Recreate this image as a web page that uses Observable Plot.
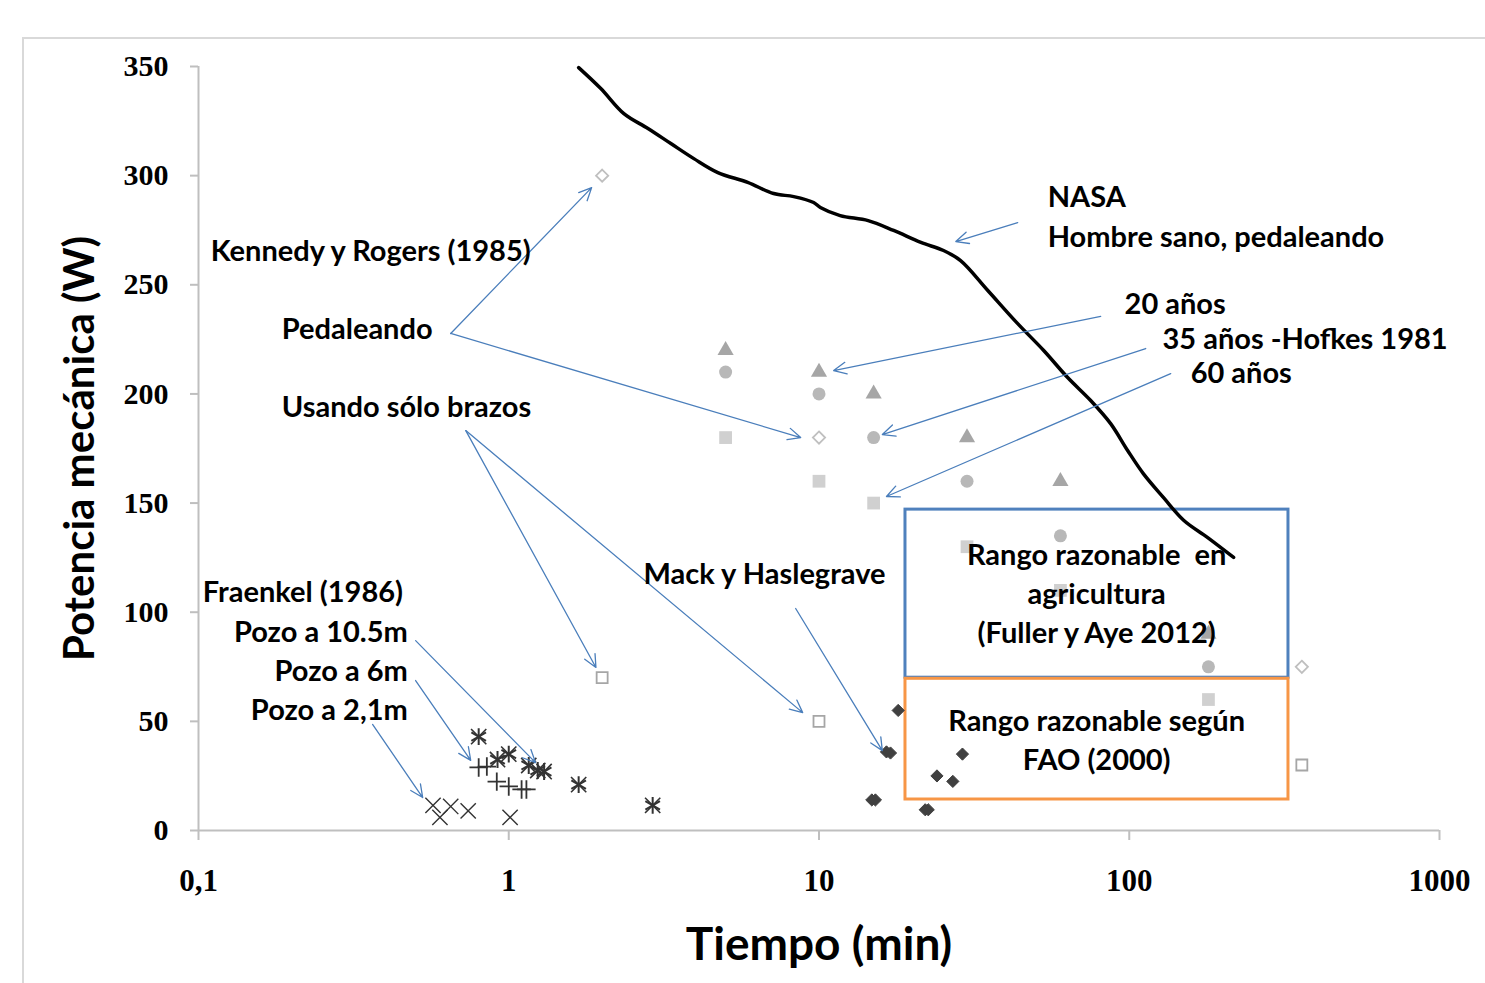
<!DOCTYPE html>
<html>
<head>
<meta charset="utf-8">
<script src="https://cdn.jsdelivr.net/npm/d3@7"></script>
<script src="https://cdn.jsdelivr.net/npm/@observablehq/plot@0.6"></script>
<style>
  html, body { margin: 0; padding: 0; background: #fff; overflow: hidden; }
  #frame { position: absolute; left: 22px; top: 37px; width: 1500px; height: 1000px; border: 2px solid #d9d9d9; box-sizing: border-box; }
  #chart { position: absolute; left: 0; top: 0; }
</style>
</head>
<body>
<div id="frame"></div>
<div id="chart"></div>
<script>
// ---- Data (time in min, power in W) ----
const nasaTime  = [1.68, 1.98, 2.35, 2.81, 3.33, 3.95, 4.72, 5.89, 7.14, 8.29, 9.61, 10.1, 11.7, 14.4, 17.4, 21.3, 25.2, 28.6, 35.0, 43.7, 53.0, 63.3, 75.1, 87.1, 98.8, 111, 129, 150, 179, 217];
const nasaPower = [349.5, 339.9, 328.4, 321.6, 314.7, 307.8, 301.4, 296.9, 291.8, 290.4, 287.7, 285.4, 281.7, 279.4, 274.9, 269.4, 265.7, 261.1, 247.4, 232.2, 219.9, 207.5, 197.0, 186.4, 174.1, 163.5, 152.5, 142.0, 134.2, 125.1];

const hofkesTime = [5, 10, 15, 30, 60, 180];
const hofkes20 = [220, 210, 200, 180, 160, 90];
const hofkes35 = [210, 200, 180, 160, 135, 75];
const hofkes60 = [180, 160, 150, 130, 110, 60];

const kennedyTime = [2, 10, 360];
const kennedyPedal = [300, 180, 75];
const kennedyArms  = [70, 50, 30];

const mackTime  = [18, 16.5, 17, 29, 24, 27, 14.8, 15.2, 22, 22.5];
const mackPower = [55, 36, 35.5, 35, 25, 22.5, 14, 14, 9.5, 9.5];

const pozo105Time  = [0.80, 0.92, 1.0, 1.16, 1.24, 1.30, 1.68, 2.91];
const pozo105Power = [43, 32.5, 35, 29.8, 27.5, 27, 21, 11.5];
const pozo6Time    = [0.80, 0.85, 0.915, 1.0, 1.10, 1.14];
const pozo6Power   = [28.9, 29.3, 22.4, 20.2, 18.8, 18.8];
const pozo21Time   = [0.57, 0.60, 0.65, 0.74, 1.01];
const pozo21Power  = [11.5, 6, 11, 9, 6];

// reasonable ranges: [t1, t2, p1, p2]
const rangeFuller = [19, 326, 70, 147];
const rangeFAO    = [19, 326, 14.2, 69.5];

const xTicks = [0.1, 1, 10, 100, 1000];
const xTickLabels = ["0,1", "1", "10", "100", "1000"];
const yTicks = [0, 50, 100, 150, 200, 250, 300, 350];

// annotations (data units)
const labelsLeft = [
  {t: 54.6, p: 290, s: "NASA"},
  {t: 54.6, p: 271.6, s: "Hombre sano, pedaleando"},
  {t: 0.1095, p: 265.2, s: "Kennedy y Rogers (1985)"},
  {t: 0.1855, p: 229.5, s: "Pedaleando"},
  {t: 0.1855, p: 193.8, s: "Usando sólo brazos"},
  {t: 96.6, p: 241, s: "20 años"},
  {t: 128, p: 224.9, s: "35 años -Hofkes 1981"},
  {t: 157.7, p: 209.3, s: "60 años"},
  {t: 2.72, p: 117.3, s: "Mack y Haslegrave"},
  {t: 0.1033, p: 109, s: "Fraenkel (1986)"}
];
const labelsRight = [
  {t: 0.4727, p: 90.7, s: "Pozo a 10.5m"},
  {t: 0.4727, p: 72.8, s: "Pozo a 6m"},
  {t: 0.4727, p: 55, s: "Pozo a 2,1m"}
];
const labelsCenter = [
  {t: 78.5, p: 126, s: "Rango razonable  en"},
  {t: 78.5, p: 108.1, s: "agricultura"},
  {t: 78.5, p: 90.2, s: "(Fuller y Aye 2012)"},
  {t: 78.5, p: 49.9, s: "Rango razonable según"},
  {t: 78.5, p: 32.1, s: "FAO (2000)"}
];
const arrows = [
  {t1: 43.7, p1: 278.5, t2: 27.6, p2: 269.8},
  {t1: 0.65, p1: 227.7, t2: 1.85, p2: 294.5},
  {t1: 0.65, p1: 227.7, t2: 8.73, p2: 180},
  {t1: 0.727, p1: 183.2, t2: 1.91, p2: 74.7},
  {t1: 0.727, p1: 183.2, t2: 8.86, p2: 54},
  {t1: 80.9, p1: 235.5, t2: 11.15, p2: 210.7},
  {t1: 113, p1: 220.8, t2: 16.0, p2: 181.4},
  {t1: 136, p1: 209.3, t2: 16.5, p2: 153},
  {t1: 8.41, p1: 101.7, t2: 16.0, p2: 36.6},
  {t1: 0.501, p1: 87, t2: 1.22, p2: 31.1},
  {t1: 0.501, p1: 68.7, t2: 0.754, p2: 32.1},
  {t1: 0.364, p1: 48.6, t2: 0.528, p2: 15.1}
];

const zip = (ts, ps) => ts.map((t, i) => ({t, p: ps[i]}));
const rects = [rangeFuller, rangeFAO].map(([t1, t2, p1, p2], i) => ({t1, t2, p1, p2, c: i === 0 ? "#4f81bd" : "#f79646"}));

const txtFont = "Lato, 'Open Sans', sans-serif";
const txtSize = 29;
const tickFont = "'Liberation Serif', serif";

const chart = Plot.plot({
  width: 1485,
  height: 983,
  marginLeft: 198,
  marginRight: 46,
  marginTop: 66,
  marginBottom: 153,
  style: {background: "transparent", fontFamily: txtFont},
  x: {type: "log", domain: [0.1, 1000]},
  y: {domain: [0, 350]},
  marks: [
    Plot.ruleY([0], {stroke: "#bfbfbf", strokeWidth: 2}),
    Plot.ruleX([0.1], {stroke: "#bfbfbf", strokeWidth: 2}),
    Plot.axisX(xTicks, {tickSize: 10, tickPadding: 28, stroke: "#bfbfbf", strokeWidth: 2, fill: "black",
      tickFormat: (d) => xTickLabels[xTicks.indexOf(d)], fontSize: 31, fontFamily: tickFont, fontWeight: "bold", label: null}),
    Plot.axisY(yTicks, {tickSize: 8, tickPadding: 22, stroke: "#bfbfbf", strokeWidth: 2, fill: "black",
      fontSize: 30, fontFamily: tickFont, fontWeight: "bold", label: null}),
    Plot.text(["Potencia mecánica (W)"], {frameAnchor: "left", dx: -118, rotate: -90, textAnchor: "middle", lineAnchor: "middle", fontSize: 42, fontWeight: "bold", fill: "black"}),
    Plot.text(["Tiempo (min)"], {frameAnchor: "bottom", dy: 115, lineAnchor: "middle", fontSize: 46, fontWeight: "bold", fill: "black"}),
    Plot.rect(rects, {x1: "t1", x2: "t2", y1: "p1", y2: "p2", fill: "none", stroke: "c", strokeWidth: 3}),
    Plot.line(zip(nasaTime, nasaPower), {x: "t", y: "p", stroke: "black", strokeWidth: 3.5, curve: "catmull-rom"}),
    Plot.dot(zip(hofkesTime, hofkes60), {x: "t", y: "p", symbol: "square", fill: "#d0d0d0", r: 7.2}),
    Plot.dot(zip(hofkesTime, hofkes35), {x: "t", y: "p", symbol: "circle", fill: "#b8b8b8", r: 6.5}),
    Plot.dot(zip(hofkesTime, hofkes20), {x: "t", y: "p", symbol: "triangle", fill: "#a6a6a6", r: 6}),
    Plot.dot(zip(kennedyTime, kennedyPedal), {x: "t", y: "p", symbol: "diamond2", fill: "white", stroke: "#bfbfbf", strokeWidth: 1.8, r: 5.5}),
    Plot.dot(zip(kennedyTime, kennedyArms), {x: "t", y: "p", symbol: "square2", fill: "white", stroke: "#a6a6a6", strokeWidth: 1.8, r: 7}),
    Plot.dot(zip(mackTime, mackPower), {x: "t", y: "p", symbol: "diamond2", fill: "#404040", stroke: "#404040", strokeWidth: 1, r: 5.5}),
    Plot.dot(zip(pozo105Time, pozo105Power), {x: "t", y: "p", symbol: "asterisk", fill: "none", stroke: "#333", strokeWidth: 2, r: 8}),
    Plot.dot(zip(pozo105Time, pozo105Power), {x: "t", y: "p", symbol: "times", fill: "none", stroke: "#333", strokeWidth: 1.6, r: 7}),
    Plot.dot(zip(pozo6Time, pozo6Power), {x: "t", y: "p", symbol: "plus", fill: "none", stroke: "#333", strokeWidth: 1.8, r: 6}),
    Plot.dot(zip(pozo21Time, pozo21Power), {x: "t", y: "p", symbol: "times", fill: "none", stroke: "#333", strokeWidth: 1.4, r: 7}),
    Plot.arrow(arrows, {x1: "t1", y1: "p1", x2: "t2", y2: "p2", stroke: "#4a7ebb", strokeWidth: 1.3, headLength: 16, headAngle: 50}),
    Plot.text(labelsLeft, {x: "t", y: "p", text: "s", textAnchor: "start", fontSize: txtSize, fontWeight: "bold", fill: "black"}),
    Plot.text(labelsRight, {x: "t", y: "p", text: "s", textAnchor: "end", fontSize: txtSize, fontWeight: "bold", fill: "black"}),
    Plot.text(labelsCenter, {x: "t", y: "p", text: "s", textAnchor: "middle", fontSize: txtSize, fontWeight: "bold", fill: "black"})
  ]
});
document.getElementById("chart").appendChild(chart);
</script>
</body>
</html>
